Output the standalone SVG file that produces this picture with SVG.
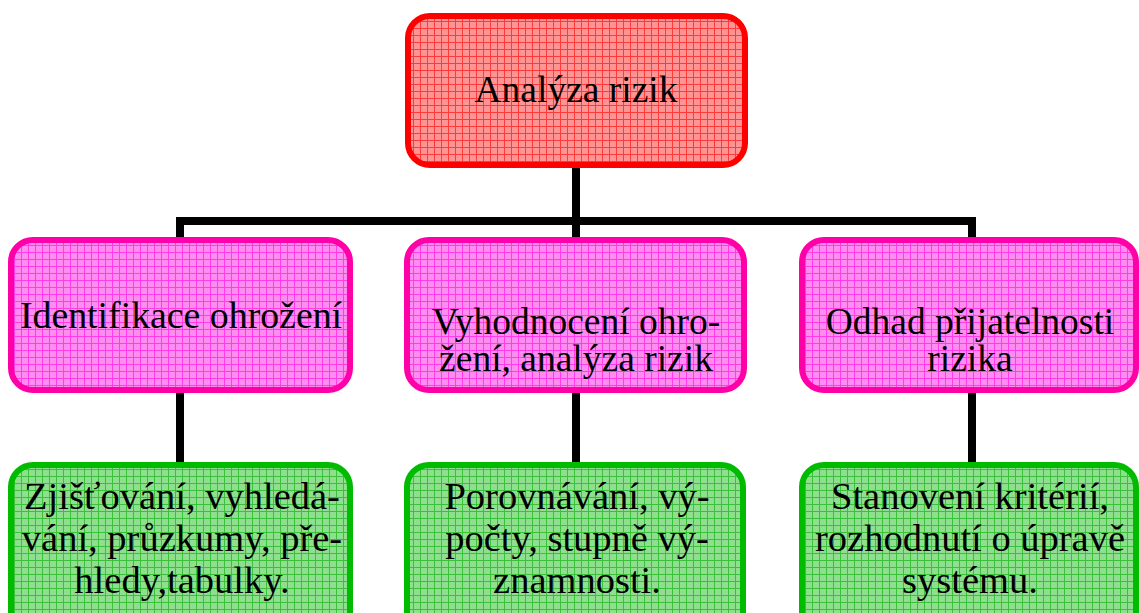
<svg xmlns="http://www.w3.org/2000/svg" width="1139" height="613" viewBox="0 0 1139 613">
<defs>
<pattern id="gridRed" patternUnits="userSpaceOnUse" width="7" height="7">
<rect width="7" height="7" fill="#FF9494"/>
<path d="M0 0.5H7M0.5 0V7" stroke="#FF3A3A" stroke-width="1"/>
</pattern>
<pattern id="gridPink" patternUnits="userSpaceOnUse" width="7" height="7">
<rect width="7" height="7" fill="#FF8CF0"/>
<path d="M0 0.5H7M0.5 0V7" stroke="#FF3CE6" stroke-width="1"/>
</pattern>
<pattern id="gridGreen" patternUnits="userSpaceOnUse" width="7" height="7">
<rect width="7" height="7" fill="#8EE08E"/>
<path d="M0 0.5H7M0.5 0V7" stroke="#3CC03C" stroke-width="1"/>
</pattern>
</defs>
<style>
.box{stroke-width:6}
.red{fill:url(#gridRed);stroke:#FF0000}
.pink{fill:url(#gridPink);stroke:#FF00A8}
.green{fill:url(#gridGreen);stroke:#00BB00}
text{font-family:"Liberation Serif","Times New Roman",serif;font-size:37.5px;fill:#000;text-anchor:middle}
.big{font-size:38.5px}
.conn{stroke:#000;stroke-width:8;fill:none}
</style>
<g id="connectors">
<path class="conn" d="M576 166V221M180 221H972M180 217V240M576 221V240M972 217V240"/>
<path class="conn" d="M180 391V465M576 391V465M972 391V465"/>
</g>
<g id="analyza">
<rect class="box red" x="408" y="16" width="337" height="149" rx="22"/>
<text x="576" y="102">Analýza rizik</text>
</g>
<g id="identifikace">
<rect class="box pink" x="11" y="240" width="339" height="150" rx="22"/>
<text x="181" y="328" style="font-size:37.8px">Identifikace ohrožení</text>
</g>
<g id="vyhodnoceni">
<rect class="box pink" x="407" y="240" width="337" height="150" rx="22"/>
<text x="576" y="334">Vyhodnocení ohro-</text>
<text x="576" y="371">žení, analýza rizik</text>
</g>
<g id="odhad">
<rect class="box pink" x="802" y="240" width="334" height="150" rx="22"/>
<text x="970" y="334">Odhad přijatelnosti</text>
<text x="970" y="371">rizika</text>
</g>
<g id="zjistovani" class="big">
<rect class="box green" x="11" y="465" width="339" height="170" rx="22"/>
<text x="182" y="509" class="big">Zjišťování, vyhledá-</text>
<text x="182" y="551" class="big">vání, průzkumy, pře-</text>
<text x="182" y="593" class="big">hledy,tabulky.</text>
</g>
<g id="porovnavani">
<rect class="box green" x="407" y="465" width="336" height="170" rx="22"/>
<text x="577" y="509" class="big">Porovnávání, vý-</text>
<text x="577" y="551" class="big">počty, stupně vý-</text>
<text x="577" y="593" class="big">znamnosti.</text>
</g>
<g id="stanoveni">
<rect class="box green" x="802" y="465" width="334" height="170" rx="22"/>
<text x="970" y="509" class="big">Stanovení kritérií,</text>
<text x="970" y="551" class="big">rozhodnutí o úpravě</text>
<text x="970" y="593" class="big">systému.</text>
</g>
</svg>
